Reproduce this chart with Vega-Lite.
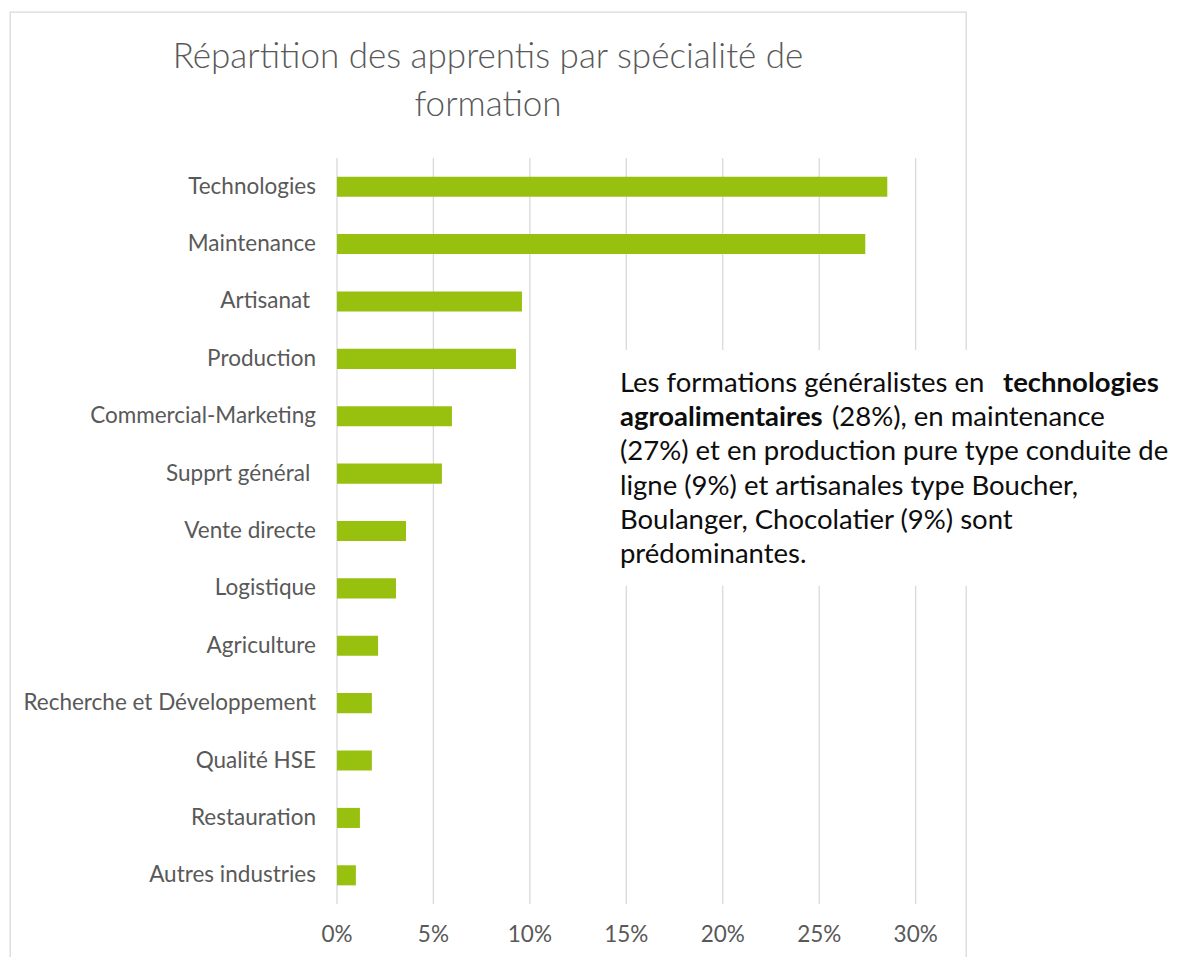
{
  "$schema": "https://vega.github.io/schema/vega-lite/v6.json",
  "width": 956,
  "height": 950,
  "autosize": {"type": "none"},
  "padding": {"left": 10, "top": 12, "right": 214, "bottom": 0},
  "background": "white",
  "config": {"view": {"stroke": "#d9d9d9", "strokeWidth": 1.3}, "font": "Lato"},
  "title": {
    "text": ["Répartition des apprentis par spécialité de", "formation"],
    "font": "Lato",
    "fontSize": 35,
    "fontWeight": 300,
    "color": "#595959",
    "lineHeight": 48,
    "anchor": "middle",
    "offset": -111
  },
  "datasets": {
    "ticks": [{"t": 0}, {"t": 0.05}, {"t": 0.1}, {"t": 0.15}, {"t": 0.2}, {"t": 0.25}, {"t": 0.3}]
  },
  "data": {
    "values": [
      {"cat": "Technologies", "v": 0.2853},
      {"cat": "Maintenance", "v": 0.2739},
      {"cat": "Artisanat\u00a0\u200b", "v": 0.0959},
      {"cat": "Production", "v": 0.0928},
      {"cat": "Commercial-Marketing", "v": 0.0596},
      {"cat": "Supprt général\u00a0\u200b", "v": 0.0544},
      {"cat": "Vente directe", "v": 0.0358},
      {"cat": "Logistique", "v": 0.0306},
      {"cat": "Agriculture", "v": 0.0213},
      {"cat": "Recherche et Développement", "v": 0.0181},
      {"cat": "Qualité HSE", "v": 0.0181},
      {"cat": "Restauration", "v": 0.0119},
      {"cat": "Autres industries", "v": 0.0098}
    ]
  },
  "layer": [
    {
      "data": {"name": "ticks"},
      "mark": {"type": "rule", "color": "#d9d9d9", "strokeWidth": 1.3},
      "encoding": {
        "x": {"field": "t", "type": "quantitative", "axis": null, "scale": {"domain": [-0.1695, 0.3261], "nice": false, "zero": false}},
        "y": {"datum": "Technologies", "type": "nominal", "bandPosition": 0, "axis": null,
          "scale": {"type": "band", "domain": ["Technologies", "Maintenance", "Artisanat\u00a0\u200b", "Production", "Commercial-Marketing", "Supprt général\u00a0\u200b", "Vente directe", "Logistique", "Agriculture", "Recherche et Développement", "Qualité HSE", "Restauration", "Autres industries"], "paddingInner": 0, "paddingOuter": 0, "range": [146, 892]}},
        "y2": {"datum": "Autres industries", "bandPosition": 1}
      }
    },
    {
      "mark": {"type": "bar", "color": "#97c00f", "height": {"band": 0.35}},
      "encoding": {
        "x": {"field": "v", "type": "quantitative", "axis": null,
          "scale": {"domain": [-0.1695, 0.3261], "nice": false, "zero": false}},
        "x2": {"datum": 0},
        "y": {"field": "cat", "type": "nominal", "axis": null,
          "scale": {"type": "band", "domain": ["Technologies", "Maintenance", "Artisanat\u00a0\u200b", "Production", "Commercial-Marketing", "Supprt général\u00a0\u200b", "Vente directe", "Logistique", "Agriculture", "Recherche et Développement", "Qualité HSE", "Restauration", "Autres industries"], "paddingInner": 0, "paddingOuter": 0, "range": [146, 892]}}
      }
    },
    {
      "mark": {"type": "text", "font": "Lato", "fontSize": 22.5, "color": "#595959", "align": "right", "baseline": "middle", "dx": -21},
      "encoding": {
        "x": {"datum": 0, "type": "quantitative", "axis": null},
        "y": {"field": "cat", "type": "nominal", "axis": null},
        "text": {"field": "cat", "type": "nominal"}
      }
    },
    {
      "data": {"name": "ticks"},
      "mark": {"type": "text", "font": "Lato", "fontSize": 22.5, "color": "#595959", "align": "center", "baseline": "middle", "dy": 31},
      "encoding": {
        "x": {"field": "t", "type": "quantitative", "axis": null},
        "y": {"datum": "Autres industries", "type": "nominal", "bandPosition": 1, "axis": null},
        "text": {"field": "t", "type": "quantitative", "format": ".0%"}
      }
    },
    {
      "data": {"values": [{}]},
      "mark": {"type": "rect", "color": "white"},
      "encoding": {
        "x": {"datum": 0.139, "type": "quantitative", "axis": null},
        "x2": {"datum": 0.45},
        "y": {"datum": "Production", "type": "nominal", "bandPosition": 0.345, "axis": null},
        "y2": {"datum": "Logistique", "bandPosition": 0.456}
      }
    },
    {
      "data": {"values": [{}]},
      "mark": {"type": "text", "font": "Lato", "fontSize": 27.5, "color": "#0d0d0d", "align": "left", "baseline": "alphabetic", "dy": 32.8},
      "encoding": {
        "x": {"datum": 0.1467, "type": "quantitative", "axis": null},
        "y": {"datum": "Production", "type": "nominal", "axis": null},
        "text": {"value": "Les formations généralistes en"}
      }
    },
    {
      "data": {"values": [{}]},
      "mark": {"type": "text", "font": "Lato", "fontSize": 27.5, "fontWeight": "bold", "color": "#0d0d0d", "align": "left", "baseline": "alphabetic", "dy": 32.8},
      "encoding": {
        "x": {"datum": 0.3453, "type": "quantitative", "axis": null},
        "y": {"datum": "Production", "type": "nominal", "axis": null},
        "text": {"value": "technologies"}
      }
    },
    {
      "data": {"values": [{}]},
      "mark": {"type": "text", "font": "Lato", "fontSize": 27.5, "fontWeight": "bold", "color": "#0d0d0d", "align": "left", "baseline": "alphabetic", "dy": 67.2},
      "encoding": {
        "x": {"datum": 0.1467, "type": "quantitative", "axis": null},
        "y": {"datum": "Production", "type": "nominal", "axis": null},
        "text": {"value": "agroalimentaires"}
      }
    },
    {
      "data": {"values": [{}]},
      "mark": {"type": "text", "font": "Lato", "fontSize": 27.5, "color": "#0d0d0d", "align": "left", "baseline": "alphabetic", "dy": 67.2},
      "encoding": {
        "x": {"datum": 0.2566, "type": "quantitative", "axis": null},
        "y": {"datum": "Production", "type": "nominal", "axis": null},
        "text": {"value": "(28%), en maintenance"}
      }
    },
    {
      "data": {"values": [{}]},
      "mark": {"type": "text", "font": "Lato", "fontSize": 27.5, "color": "#0d0d0d", "align": "left", "baseline": "alphabetic", "lineHeight": 34.4, "dy": 101.4},
      "encoding": {
        "x": {"datum": 0.1467, "type": "quantitative", "axis": null},
        "y": {"datum": "Production", "type": "nominal", "axis": null},
        "text": {"value": ["(27%) et en production pure type conduite de", "ligne (9%) et artisanales type Boucher,", "Boulanger, Chocolatier (9%) sont", "prédominantes."]}
      }
    }
  ]
}
